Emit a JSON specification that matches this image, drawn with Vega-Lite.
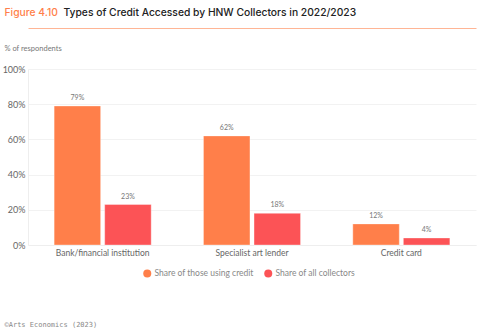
{
  "$schema": "https://vega.github.io/schema/vega-lite/v6.json",
  "width": 448,
  "height": 176,
  "autosize": {"type": "none"},
  "padding": {"left": 28, "top": 69, "right": 4, "bottom": 84},
  "background": "#ffffff",
  "config": {
    "view": {"stroke": null},
    "font": "Lato",
    "axis": {"labelFont": "Lato", "titleFont": "Lato"}
  },
  "data": {
    "values": [
      {"category": "Bank/financial institution", "series": "Share of those using credit", "value": 0.79},
      {"category": "Bank/financial institution", "series": "Share of all collectors", "value": 0.23},
      {"category": "Specialist art lender", "series": "Share of those using credit", "value": 0.62},
      {"category": "Specialist art lender", "series": "Share of all collectors", "value": 0.18},
      {"category": "Credit card", "series": "Share of those using credit", "value": 0.12},
      {"category": "Credit card", "series": "Share of all collectors", "value": 0.04}
    ]
  },
  "encoding": {
    "x": {
      "field": "category", "type": "nominal", "sort": null,
      "scale": {"paddingInner": 0.35, "paddingOuter": 0.175}
    },
    "xOffset": {
      "field": "series", "type": "nominal",
      "sort": ["Share of those using credit", "Share of all collectors"],
      "scale": {"paddingInner": 0.08}
    },
    "y": {
      "field": "value", "type": "quantitative",
      "scale": {"domain": [0, 1]}
    }
  },
  "layer": [
    {
      "mark": {"type": "bar", "stroke": "#ffffff", "strokeOpacity": 0.35, "strokeWidth": 1},
      "encoding": {
        "x": {
          "field": "category", "type": "nominal", "sort": null,
          "scale": {"paddingInner": 0.35, "paddingOuter": 0.175},
          "axis": {
            "orient": "bottom", "labelAngle": 0, "ticks": false, "domain": true,
            "domainColor": "#eeeeee", "labelFontSize": 8.5, "labelColor": "#666666",
            "labelPadding": 3,
            "title": "©Arts Economics (2023)", "titleFont": "DejaVu Sans Mono",
            "titleFontSize": 7, "titleColor": "#888888", "titleFontWeight": "normal",
            "titleX": -24, "titleY": 81, "titleAlign": "left", "titleAnchor": "start",
            "titleBaseline": "alphabetic"
          }
        },
        "y": {
          "field": "value", "type": "quantitative",
          "scale": {"domain": [0, 1]},
          "axis": {
            "orient": "left", "values": [0, 0.2, 0.4, 0.6, 0.8, 1], "format": ".0%",
            "ticks": false, "domain": true, "domainColor": "#eeeeee",
            "gridColor": "#f2f2f2", "labelFontSize": 9, "labelColor": "#666666",
            "labelPadding": 3,
            "title": "% of respondents", "titleAngle": 0, "titleAlign": "left",
            "titleX": -24, "titleY": -19, "titleBaseline": "alphabetic",
            "titleFontSize": 7.5, "titleColor": "#777777", "titleFontWeight": "normal"
          }
        },
        "color": {
          "field": "series", "type": "nominal",
          "sort": ["Share of those using credit", "Share of all collectors"],
          "scale": {"domain": ["Share of those using credit", "Share of all collectors"], "range": ["#ff7f4a", "#fc5356"]},
          "legend": {
            "orient": "none", "legendX": 115, "legendY": 200, "direction": "horizontal",
            "title": null, "symbolType": "circle", "symbolSize": 64, "symbolStrokeWidth": 0,
            "labelFontSize": 8.5, "labelColor": "#888888", "columnPadding": 10, "labelOffset": 3
          }
        }
      }
    },
    {
      "mark": {"type": "text", "dy": -5, "fontSize": 7, "color": "#777777", "baseline": "bottom"},
      "encoding": {
        "x": {
          "field": "category", "type": "nominal", "sort": null,
          "scale": {"paddingInner": 0.35, "paddingOuter": 0.175},
          "axis": {
            "orient": "top", "offset": 41, "labels": false, "ticks": false, "grid": false,
            "domain": true, "domainColor": "#ffb595", "domainWidth": 1,
            "title": "Figure 4.10", "titleFont": "Inter", "titleFontSize": 10.3,
            "titleFontWeight": 500, "titleColor": "#ff7f4a",
            "titleX": -24, "titleY": -13, "titleAlign": "left", "titleAnchor": "start",
            "titleBaseline": "alphabetic"
          }
        },
        "y": {
          "field": "value", "type": "quantitative",
          "scale": {"domain": [0, 1]},
          "axis": {
            "orient": "right", "labels": false, "ticks": false, "grid": false, "domain": false,
            "title": "Types of Credit Accessed by HNW Collectors in 2022/2023",
            "titleFont": "Inter", "titleFontSize": 10.3, "titleFontWeight": 500,
            "titleColor": "#222222", "titleAngle": 0, "titleAlign": "left",
            "titleX": -413, "titleY": -54, "titleBaseline": "alphabetic"
          }
        },
        "text": {"field": "value", "type": "quantitative", "format": ".0%"}
      }
    }
  ],
  "resolve": {"axis": {"x": "independent", "y": "independent"}}
}
